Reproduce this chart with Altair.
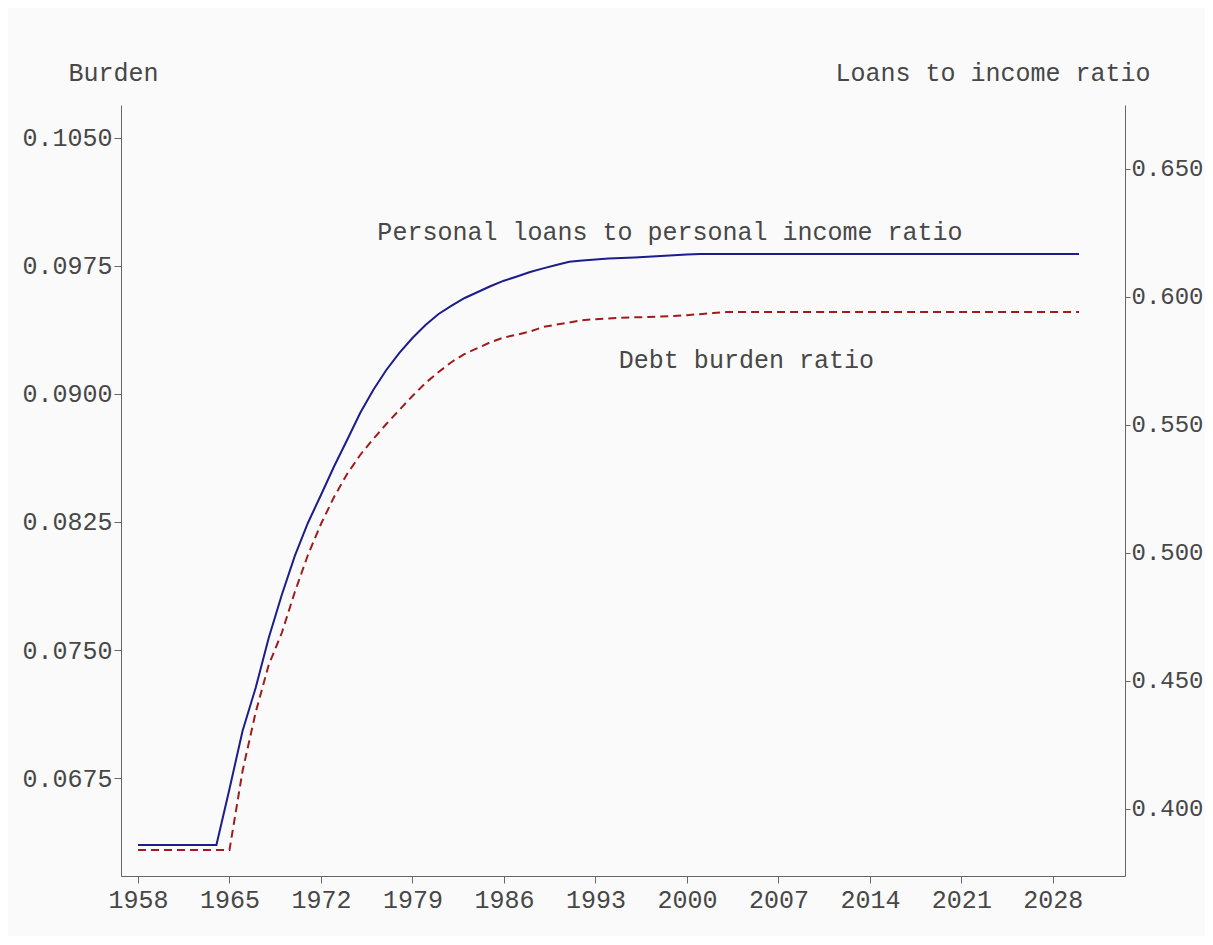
import altair as alt
import pandas as pd

years = list(range(1958, 2031))

loans_income = [
    0.38594, 0.38594, 0.38594, 0.38594, 0.38594, 0.38594, 0.38594,
    0.40781, 0.43047, 0.44727, 0.46680, 0.48359, 0.49883, 0.51172,
    0.52266, 0.53379, 0.54414, 0.55469, 0.56367, 0.57148, 0.57813,
    0.58398, 0.58906, 0.59336, 0.59664, 0.59961, 0.60195, 0.60430,
    0.60637, 0.60801, 0.60977, 0.61117, 0.61250, 0.61375, 0.61422,
    0.61465, 0.61500, 0.61523, 0.61547, 0.61574, 0.61605, 0.61633,
    0.61664,
] + [0.61680] * 30

debt_burden = [
    0.063281, 0.063281, 0.063281, 0.063281, 0.063281, 0.063281, 0.063281,
    0.063281, 0.067910, 0.071338, 0.074121, 0.075996, 0.078398, 0.080566,
    0.082383, 0.083965, 0.085313, 0.086426, 0.087363, 0.088242, 0.089063,
    0.089883, 0.090645, 0.091289, 0.091875, 0.092344, 0.092695, 0.093041,
    0.093311, 0.093475, 0.093656, 0.093926, 0.094061, 0.094189, 0.094324,
    0.094377, 0.094424, 0.094465, 0.094488, 0.094512, 0.094541, 0.094565,
    0.094617, 0.094676, 0.094740, 0.094799,
] + [0.094805] * 27

x_ticks = [1958, 1965, 1972, 1979, 1986, 1993, 2000, 2007, 2014, 2021, 2028]
left_ticks = [0.0675, 0.0750, 0.0825, 0.0900, 0.0975, 0.1050]
right_ticks = [0.400, 0.450, 0.500, 0.550, 0.600, 0.650]

label_loans = ["Personal loans to personal income ratio"]
label_loans_year = [1998.7]
label_loans_val = [0.62539]
label_debt = ["Debt burden ratio"]
label_debt_year = [2004.55]
label_debt_val = [0.091992]

df = pd.DataFrame({"year": years, "loans": loans_income, "debt": debt_burden})
df_lab_loans = pd.DataFrame({"year": label_loans_year, "v": label_loans_val, "t": label_loans})
df_lab_debt = pd.DataFrame({"year": label_debt_year, "v": label_debt_val, "t": label_debt})

FONT = "Liberation Mono"
GRAY = "#474747"
AX = "#666666"
LEFT_DOM = [0.06176, 0.10693]
RIGHT_DOM = [0.3738, 0.675]

xscale = alt.Scale(domain=[1956.70, 2033.52], nice=False, zero=False)
xaxis = alt.Axis(values=x_ticks, format="d", title=None, grid=False,
                 tickSize=7, labelPadding=4, labelFontSize=25, labelFont=FONT,
                 labelColor=GRAY, domainColor=AX, tickColor=AX,
                 labelFlush=False, labelOverlap=False)

red_line = alt.Chart(df).mark_line(color="#a01c1c", strokeWidth=2, strokeDash=[8, 5]).encode(
    x=alt.X("year:Q", scale=xscale, axis=xaxis),
    y=alt.Y("debt:Q", scale=alt.Scale(domain=LEFT_DOM, nice=False, zero=False),
            axis=alt.Axis(orient="left", values=left_ticks, format=".4f", grid=False,
                          title="Burden", titleAngle=0, titleX=-8, titleY=-33,
                          titleAlign="center", titleBaseline="middle",
                          titleFont=FONT, titleFontSize=25, titleFontWeight="normal",
                          titleColor=GRAY, tickSize=7, labelPadding=2,
                          labelFont=FONT, labelFontSize=25, labelColor=GRAY,
                          domainColor=AX, tickColor=AX,
                          labelFlush=False, labelOverlap=False)),
)

blue_line = alt.Chart(df).mark_line(color="#1c1c8c", strokeWidth=2).encode(
    x=alt.X("year:Q", scale=xscale, axis=xaxis),
    y=alt.Y("loans:Q", scale=alt.Scale(domain=RIGHT_DOM, nice=False, zero=False),
            axis=alt.Axis(orient="right", values=right_ticks, format=".3f", grid=False,
                          title="Loans to income ratio", titleAngle=0, titleX=25, titleY=-33,
                          titleAlign="right", titleBaseline="middle",
                          titleFont=FONT, titleFontSize=25, titleFontWeight="normal",
                          titleColor=GRAY, tickSize=5, labelPadding=1,
                          labelFont=FONT, labelFontSize=24, labelColor=GRAY,
                          domainColor=AX, tickColor=AX,
                          labelFlush=False, labelOverlap=False)),
)

blue_text = alt.Chart(df_lab_loans).mark_text(font=FONT, fontSize=25, color=GRAY,
                                               align="center", baseline="middle").encode(
    x=alt.X("year:Q", scale=xscale, axis=xaxis),
    y=alt.Y("v:Q", scale=alt.Scale(domain=RIGHT_DOM, nice=False, zero=False), axis=None),
    text="t:N",
)

red_text = alt.Chart(df_lab_debt).mark_text(font=FONT, fontSize=25, color=GRAY,
                                            align="center", baseline="middle").encode(
    x=alt.X("year:Q", scale=xscale, axis=xaxis),
    y=alt.Y("v:Q", scale=alt.Scale(domain=LEFT_DOM, nice=False, zero=False), axis=None),
    text="t:N",
)

chart = alt.layer(red_line, blue_line, blue_text, red_text).resolve_scale(
    y="independent"
).properties(
    width=1004, height=771,
    autosize=alt.AutoSizeParams(type="none"),
    padding={"left": 113, "top": 97, "right": 80, "bottom": 60},
    background="#fafafa",
).configure_view(stroke=None)

chart.save("out.html", embed_options={"renderer": "svg", "actions": False})
